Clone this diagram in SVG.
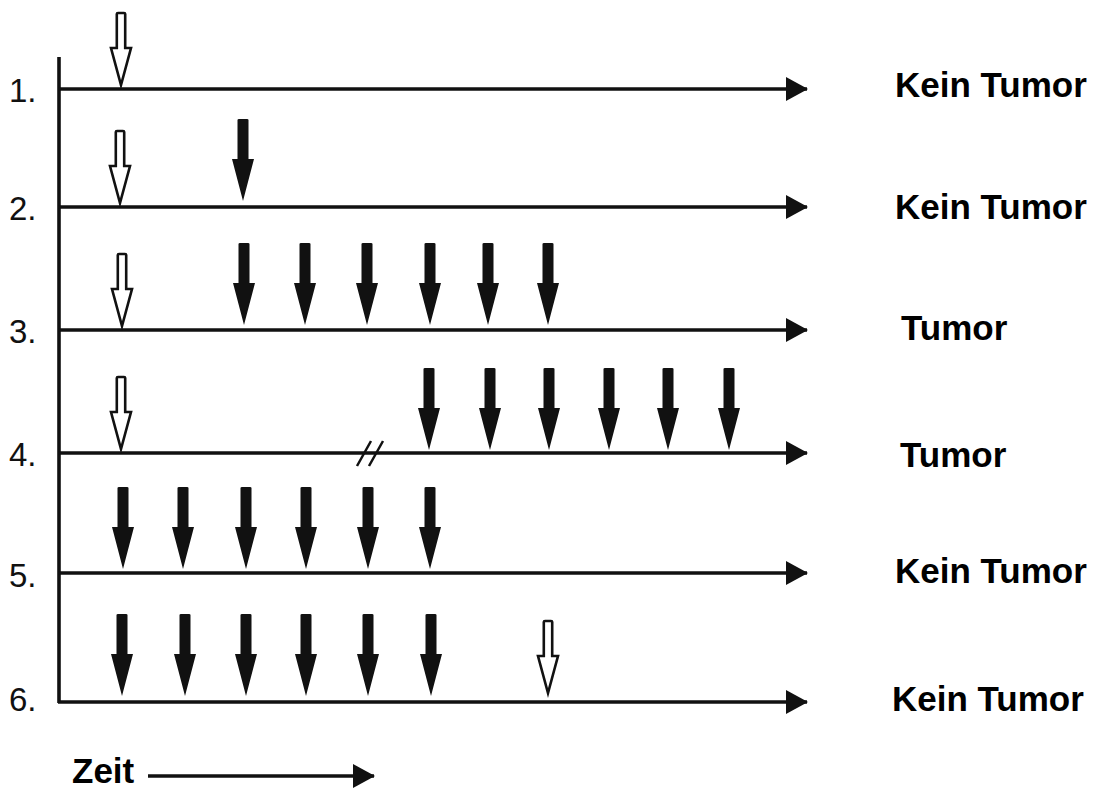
<svg xmlns="http://www.w3.org/2000/svg" xmlns:xlink="http://www.w3.org/1999/xlink" width="1095" height="789" viewBox="0 0 1095 789">
<style>
.ax{stroke:#111;stroke-width:3.6;fill:none}
.num{font-family:"Liberation Sans",Arial,sans-serif;font-size:33px;fill:#111}
.lab{font-family:"Liberation Sans",Arial,sans-serif;font-size:35px;font-weight:bold;fill:#000}
.brk{stroke:#111;stroke-width:2.5;fill:none}
</style>
<defs>
<path id="fa" d="M-5.5,-81 Q-5.5,-82 -4,-82 H4 Q5.5,-82 5.5,-81 V-42 H11 L0,0 L-11,-42 H-5.5 Z" fill="#111"/>
<path id="oa" d="M-4.2,-72 Q-4.2,-73 -3,-73 H3 Q4.2,-73 4.2,-72 V-38 H10 L0,-1 L-10,-38 H-4.2 Z" fill="#fff" stroke="#111" stroke-width="2.6" stroke-linejoin="miter"/>
<marker id="ah" markerWidth="23" markerHeight="24" refX="21" refY="12" orient="auto" markerUnits="userSpaceOnUse">
<path d="M0,0 L22,12 L0,24 Z" fill="#111"/>
</marker>
</defs>
<g id="connectors">
<line class="ax" x1="59" y1="57" x2="59" y2="703"/>
<line class="ax" x1="58" y1="89" x2="807" y2="89" marker-end="url(#ah)"/>
<line class="ax" x1="58" y1="207" x2="807" y2="207" marker-end="url(#ah)"/>
<line class="ax" x1="58" y1="330" x2="807" y2="330" marker-end="url(#ah)"/>
<line class="ax" x1="58" y1="453" x2="807" y2="453" marker-end="url(#ah)"/>
<line class="ax" x1="58" y1="573" x2="807" y2="573" marker-end="url(#ah)"/>
<line class="ax" x1="58" y1="702" x2="807" y2="702" marker-end="url(#ah)"/>
<path class="brk" d="M357,466 L371,441 M369,466 L383,441"/>
<line class="ax" x1="148" y1="776" x2="374" y2="776" marker-end="url(#ah)"/>
</g>
<g id="row1">
<text class="num" x="9" y="102">1.</text>
<use xlink:href="#oa" x="121" y="86"/>
<text class="lab" x="895" y="97">Kein Tumor</text>
</g>
<g id="row2">
<text class="num" x="9" y="220">2.</text>
<use xlink:href="#oa" x="120" y="204"/>
<use xlink:href="#fa" x="243" y="201"/>
<text class="lab" x="895" y="219">Kein Tumor</text>
</g>
<g id="row3">
<text class="num" x="9" y="343">3.</text>
<use xlink:href="#oa" x="122" y="327"/>
<use xlink:href="#fa" x="244" y="325"/>
<use xlink:href="#fa" x="305" y="325"/>
<use xlink:href="#fa" x="367" y="325"/>
<use xlink:href="#fa" x="430" y="325"/>
<use xlink:href="#fa" x="488" y="325"/>
<use xlink:href="#fa" x="548" y="325"/>
<text class="lab" x="901" y="340">Tumor</text>
</g>
<g id="row4">
<text class="num" x="9" y="466">4.</text>
<use xlink:href="#oa" x="121" y="450"/>
<use xlink:href="#fa" x="429" y="450"/>
<use xlink:href="#fa" x="490" y="450"/>
<use xlink:href="#fa" x="549" y="450"/>
<use xlink:href="#fa" x="609" y="450"/>
<use xlink:href="#fa" x="668" y="450"/>
<use xlink:href="#fa" x="729" y="450"/>
<text class="lab" x="900" y="467">Tumor</text>
</g>
<g id="row5">
<text class="num" x="9" y="587">5.</text>
<use xlink:href="#fa" x="123" y="569"/>
<use xlink:href="#fa" x="183" y="569"/>
<use xlink:href="#fa" x="246" y="569"/>
<use xlink:href="#fa" x="306" y="569"/>
<use xlink:href="#fa" x="368" y="569"/>
<use xlink:href="#fa" x="430" y="569"/>
<text class="lab" x="895" y="583">Kein Tumor</text>
</g>
<g id="row6">
<text class="num" x="9" y="711">6.</text>
<use xlink:href="#fa" x="122" y="696"/>
<use xlink:href="#fa" x="185" y="696"/>
<use xlink:href="#fa" x="246" y="696"/>
<use xlink:href="#fa" x="306" y="696"/>
<use xlink:href="#fa" x="368" y="696"/>
<use xlink:href="#fa" x="431" y="696"/>
<use xlink:href="#oa" x="548" y="694"/>
<text class="lab" x="892" y="711">Kein Tumor</text>
</g>
<g id="time">
<text class="lab" x="72" y="783">Zeit</text>
</g>
</svg>
